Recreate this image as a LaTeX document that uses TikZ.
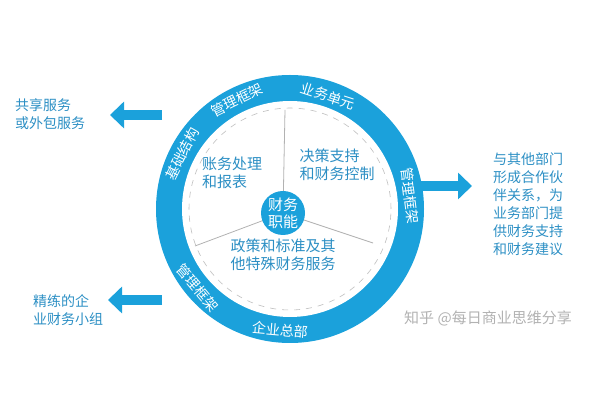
\documentclass[tikz,border=0pt]{standalone}
\usepackage{fontspec}
\setmainfont{Noto Sans CJK SC}
\usetikzlibrary{arrows.meta,positioning}
\definecolor{ringblue}{HTML}{1BA1DB}
\definecolor{textblue}{HTML}{2C8FC4}
\tikzset{
  ringtext/.style={text=white,inner sep=0pt,font=\fontsize{7}{8}\selectfont},
  sectortext/.style={text=textblue,align=left,font=\fontsize{7.5}{9}\selectfont},
  sidetext/.style={text=textblue,align=left,anchor=north west,font=\fontsize{7}{9}\selectfont},
  bigarrow/.style={ringblue,line width=5pt,-{Triangle[length=7pt,width=13pt]}}
}
\begin{document}
\begin{tikzpicture}[x=0.5pt,y=-0.5pt]
\useasboundingbox (0,0) rectangle (600,400);

%% ring
\coordinate (O) at (290,209);
\fill[ringblue] (O) circle[radius=134*0.5pt];
\fill[white] (O) circle[radius=108*0.5pt];
\draw[gray!50,dashed,line width=0.3pt] (O) circle[radius=101*0.5pt];

%% sectors
\coordinate (M) at (283,213);
\coordinate (S1) at (285,110);
\coordinate (S2) at (195,246);
\coordinate (S3) at (373,243);
\draw[gray!60,line width=0.4pt] (M) -- (S1);
\draw[gray!60,line width=0.4pt] (M) -- (S2);
\draw[gray!60,line width=0.4pt] (M) -- (S3);
\node[circle,fill=ringblue,minimum size=22pt,inner sep=0pt,text=white,align=center,
  font=\fontsize{7.5}{8.5}\selectfont] (core) at (M) {财务\\职能};

\node[sectortext] (acc) at (232,173) {账务处理\\和报表};
\node[sectortext] (dec) at (337,165) {决策支持\\和财务控制};
\node[sectortext] (pol) at (283,255) {政策和标准及其\\他特殊财务服务};

%% ring labels
\node[ringtext,rotate=63] (r1) at (182,154) {基础结构};
\node[ringtext,rotate=26] (r2) at (237,100) {管理框架};
\node[ringtext,rotate=-18] (r3) at (328,96) {业务单元};
\node[ringtext,rotate=-83] (r4) at (410,196) {管理框架};
\node[ringtext,rotate=-5] (r5) at (280,330) {企业总部};
\node[ringtext,rotate=-50] (r6) at (198,288) {管理框架};

%% side arrows
\coordinate (a1s) at (162,115);
\coordinate (a1e) at (110,115);
\coordinate (a2s) at (420,186);
\coordinate (a2e) at (472,186);
\coordinate (a3s) at (162,300);
\coordinate (a3e) at (108,300);
\draw[bigarrow] (a1s) -- (a1e);
\draw[bigarrow] (a2s) -- (a2e);
\draw[bigarrow] (a3s) -- (a3e);

\node[sidetext] (t1) at (8,92) {共享服务\\或外包服务};
\node[sidetext] (t2) at (486,146) {与其他部门\\形成合作伙\\伴关系，为\\业务部门提\\供财务支持\\和财务建议};
\node[sidetext] (t3) at (26,288) {精练的企\\业财务小组};

\node[text=gray!60,font=\fontsize{7.5}{9}\selectfont] (wm) at (488,318) {知乎 @每日商业思维分享};
\end{tikzpicture}
\end{document}
